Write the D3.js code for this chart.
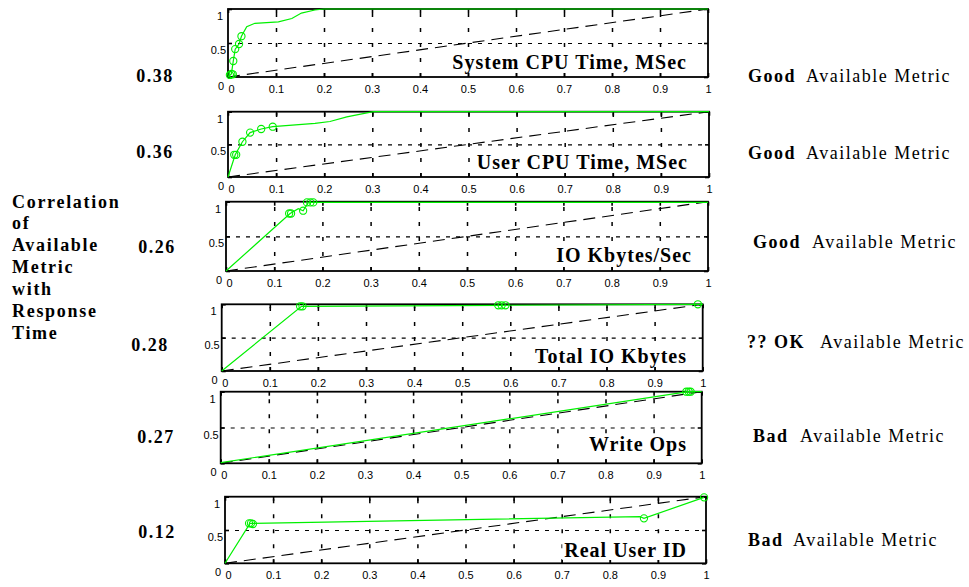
<!DOCTYPE html>
<html>
<head>
<meta charset="utf-8">
<script src="https://cdn.jsdelivr.net/npm/d3@7/dist/d3.min.js"></script>
<style>
  body { margin: 0; background: #fff; }
  svg { display: block; }
</style>
</head>
<body>
<svg id="chart" width="969" height="587"></svg>
<script>
// ---- data -------------------------------------------------------------
const metricNames = [
  "System CPU Time, MSec",
  "User CPU Time, MSec",
  "IO Kbytes/Sec",
  "Total IO Kbytes",
  "Write Ops",
  "Real User ID"
];
const correlations = ["0.38", "0.36", "0.26", "0.28", "0.27", "0.12"];
const verdicts = ["Good", "Good", "Good", "?? OK", "Bad", "Bad"];
const verdictSuffix = "Available Metric";
const sideTitle = ["Correlation", "of", "Available", "Metric", "with", "Response", "Time"];

const xTicks = [0, 0.1, 0.2, 0.3, 0.4, 0.5, 0.6, 0.7, 0.8, 0.9, 1];
const xTickLabels = ["0", "0.1", "0.2", "0.3", "0.4", "0.5", "0.6", "0.7", "0.8", "0.9", "1"];
const yTicks = [0, 0.5, 1];
const yTickLabels = ["0", "0.5", "1"];

// reference diagonal (random ordering)
const diagonal = [[0, 0], [1, 1]];

// cumulative curves, one per metric
const curveSystemCpu = [[0, 0], [0.007, 0.045], [0.011, 0.235], [0.015, 0.41], [0.023, 0.485],
  [0.028, 0.6], [0.039, 0.74], [0.056, 0.79], [0.105, 0.81], [0.133, 0.86], [0.153, 0.94],
  [0.181, 0.985], [0.2, 1], [1, 1]];
const curveUserCpu = [[0, 0], [0.015, 0.34], [0.03, 0.54], [0.046, 0.68], [0.069, 0.735],
  [0.093, 0.77], [0.181, 0.82], [0.212, 0.85], [0.247, 0.92], [0.302, 1], [1, 1]];
const curveIoRate = [[0, 0], [0.133, 0.83], [0.15, 0.9], [0.16, 0.87], [0.171, 0.99],
  [0.181, 0.99], [1, 0.99]];
const curveTotalIo = [[0, 0], [0.166, 0.97], [0.58, 0.985], [0.99, 1], [1, 1]];
const curveWriteOps = [[0, 0.01], [0.972, 1], [1, 1]];
const curveRealUser = [[0, 0], [0.052, 0.6], [0.057, 0.6], [0.863, 0.7], [0.871, 0.675],
  [0.996, 0.99]];

// circle markers on each curve
const markSystemCpu = [[0.004, 0.03], [0.007, 0.045], [0.01, 0.04], [0.011, 0.235],
  [0.015, 0.41], [0.023, 0.485], [0.028, 0.6]];
const markUserCpu = [[0.013, 0.34], [0.017, 0.34], [0.03, 0.54], [0.046, 0.68],
  [0.069, 0.735], [0.093, 0.77]];
const markIoRate = [[0.131, 0.83], [0.135, 0.83], [0.16, 0.87], [0.168, 0.99],
  [0.175, 0.99], [0.181, 0.99]];
const markTotalIo = [[0.163, 0.97], [0.168, 0.97], [0.575, 0.985], [0.582, 0.985],
  [0.59, 0.985], [0.99, 1]];
const markWriteOps = [[0.968, 1], [0.973, 1], [0.977, 1]];
const markRealUser = [[0.05, 0.6], [0.054, 0.6], [0.058, 0.59], [0.871, 0.675], [0.996, 0.99]];

const curves = [curveSystemCpu, curveUserCpu, curveIoRate, curveTotalIo, curveWriteOps, curveRealUser];
const marks = [markSystemCpu, markUserCpu, markIoRate, markTotalIo, markWriteOps, markRealUser];

// ---- layout -----------------------------------------------------------
const frames = [
  { l: 228,   r: 708,   t: 9,     b: 77 },
  { l: 228,   r: 709,   t: 111.7, b: 177 },
  { l: 226,   r: 708,   t: 201.7, b: 271 },
  { l: 221.7, r: 702.7, t: 304.3, b: 371 },
  { l: 220.7, r: 701.7, t: 391.7, b: 463.3 },
  { l: 225,   r: 706,   t: 496.7, b: 563.3 }
];
const titleAnchors = [[687, 62], [688, 161.7], [692, 255], [687, 355.7], [687, 444.3], [687, 550]];
const corrAnchors = [[155, 76], [155, 152], [157, 247], [150, 345], [156, 437], [157, 532]];
const verdictAnchors = [[748, 806, 76], [748, 806, 153], [753, 812, 242], [747, 820, 342],
  [753, 800, 436], [748, 793, 540]];

const GREEN = "#00f000";
const svg = d3.select("#chart");
svg.append("rect").attr("width", 969).attr("height", 587).attr("fill", "#fff");

const serif = "Times New Roman, Times, Liberation Serif, Tinos, serif";
const sans = "Arial, Helvetica, Liberation Sans, Arimo, sans-serif";

frames.forEach((f, i) => {
  const x = d3.scaleLinear().domain([0, 1]).range([f.l, f.r]);
  const y = d3.scaleLinear().domain([0, 1]).range([f.b, f.t]);
  const g = svg.append("g").attr("class", "panel");
  const h = f.b - f.t;

  // vertical dotted grid
  g.append("g")
    .attr("transform", `translate(0,${f.b})`)
    .call(d3.axisBottom(x).tickValues(xTicks.slice(1, -1)).tickSize(-h).tickFormat(""))
    .call(a => a.select(".domain").remove())
    .call(a => a.selectAll("line").attr("stroke", "#000").attr("stroke-width", 1.5)
      .attr("stroke-dasharray", "4,11"));

  // horizontal dotted grid
  g.append("g")
    .attr("transform", `translate(${f.l},0)`)
    .call(d3.axisLeft(y).tickValues([0.5]).tickSize(-(f.r - f.l)).tickFormat(""))
    .call(a => a.select(".domain").remove())
    .call(a => a.selectAll("line").attr("stroke", "#000").attr("stroke-width", 1.2)
      .attr("stroke-dasharray", "4,6"));

  // inward tick marks on all four sides
  const tickLen = 4;
  [[d3.axisBottom(x), `translate(0,${f.b})`, xTicks],
   [d3.axisTop(x), `translate(0,${f.t})`, xTicks],
   [d3.axisLeft(y), `translate(${f.l},0)`, yTicks],
   [d3.axisRight(y), `translate(${f.r},0)`, yTicks]].forEach(([ax, tr, tv]) => {
    g.append("g").attr("transform", tr)
      .call(ax.tickValues(tv).tickSize(-tickLen).tickFormat(""))
      .call(a => a.select(".domain").remove())
      .call(a => a.selectAll("line").attr("stroke", "#000").attr("stroke-width", 1.6));
  });

  // diagonal reference
  g.append("path")
    .datum(diagonal)
    .attr("d", d3.line().x(d => x(d[0])).y(d => y(d[1])))
    .attr("fill", "none").attr("stroke", "#000").attr("stroke-width", 1.1)
    .attr("stroke-dasharray", "12,7");

  // frame
  g.append("rect")
    .attr("x", f.l).attr("y", f.t).attr("width", f.r - f.l).attr("height", h)
    .attr("fill", "none").attr("stroke", "#000").attr("stroke-width", 1.8);

  // metric curve
  g.append("path")
    .datum(curves[i])
    .attr("d", d3.line().x(d => x(d[0])).y(d => y(d[1])))
    .attr("fill", "none").attr("stroke", GREEN).attr("stroke-width", 1.2);

  g.selectAll("circle.m")
    .data(marks[i])
    .join("circle")
    .attr("class", "m")
    .attr("cx", d => x(d[0])).attr("cy", d => y(d[1])).attr("r", 3.6)
    .attr("fill", "none").attr("stroke", GREEN).attr("stroke-width", 1.1);

  // x tick labels
  g.append("g")
    .attr("transform", `translate(0,${f.b})`)
    .call(d3.axisBottom(x).tickValues(xTicks).tickSize(0)
      .tickFormat((d, k) => xTickLabels[k]))
    .call(a => a.select(".domain").remove())
    .call(a => a.selectAll("text")
      .attr("font-family", sans).attr("font-size", 11).attr("fill", "#000")
      .attr("y", 16).attr("dy", 0)
      .attr("x", d => d === 0 ? 3 : 0));

  // y tick labels
  g.append("g")
    .attr("transform", `translate(${f.l},0)`)
    .call(d3.axisLeft(y).tickValues(yTicks).tickSize(0)
      .tickFormat((d, k) => yTickLabels[k]))
    .call(a => a.select(".domain").remove())
    .call(a => a.selectAll("text")
      .attr("font-family", sans).attr("font-size", 11).attr("fill", "#000")
      .attr("dy", 0)
      .attr("x", d => d === 0 ? -4 : (d === 1 ? -5 : -2))
      .attr("y", d => d === 0 ? 12 : 10.5));

  // metric name with white backing
  const [tx, ty] = titleAnchors[i];
  const title = g.append("text")
    .attr("x", tx).attr("y", ty + 7)
    .attr("text-anchor", "end")
    .attr("font-family", serif).attr("font-weight", "bold")
    .attr("font-size", 20).attr("letter-spacing", 1)
    .attr("fill", "#000")
    .text(metricNames[i]);
  const bb = title.node().getBBox();
  g.insert("rect", () => title.node())
    .attr("x", bb.x - 2).attr("y", bb.y + 2).attr("width", bb.width + 4).attr("height", bb.height - 3)
    .attr("fill", "#fff");

  // correlation value
  const [cx, cy] = corrAnchors[i];
  svg.append("text")
    .attr("x", cx).attr("y", cy + 6)
    .attr("text-anchor", "middle")
    .attr("font-family", serif).attr("font-weight", "bold")
    .attr("font-size", 18).attr("letter-spacing", 1.5)
    .text(correlations[i]);

  // verdict
  const [vx1, vx2, vy] = verdictAnchors[i];
  svg.append("text")
    .attr("x", vx1).attr("y", vy + 6)
    .attr("font-family", serif).attr("font-weight", "bold")
    .attr("font-size", 18).attr("letter-spacing", 1.5)
    .text(verdicts[i]);
  svg.append("text")
    .attr("x", vx2).attr("y", vy + 6)
    .attr("font-family", serif)
    .attr("font-size", 18).attr("letter-spacing", 1.5)
    .text(verdictSuffix);
});

// left-hand caption
svg.append("text")
  .attr("font-family", serif).attr("font-weight", "bold")
  .attr("font-size", 18).attr("letter-spacing", 1.7)
  .selectAll("tspan")
  .data(sideTitle)
  .join("tspan")
  .attr("x", 12)
  .attr("y", (d, k) => 207.5 + k * 21.9)
  .text(d => d);
</script>
</body>
</html>
